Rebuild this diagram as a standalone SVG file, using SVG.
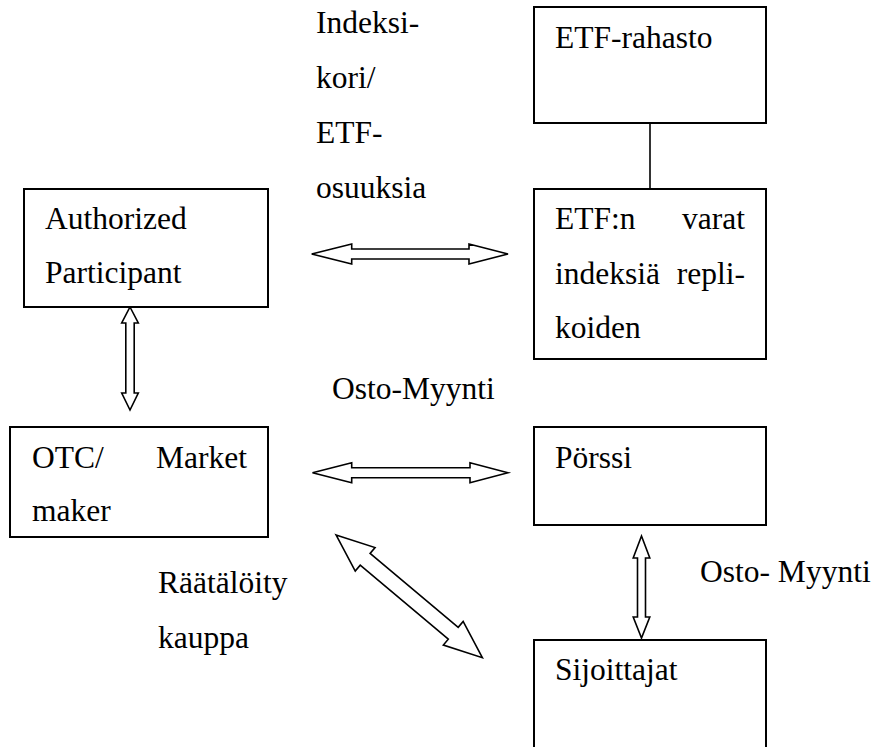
<svg xmlns="http://www.w3.org/2000/svg" width="878" height="747" viewBox="0 0 878 747">
<style>
.box{fill:#fff;stroke:#000;stroke-width:2}
.arr{fill:#fff;stroke:#000;stroke-width:1.6;stroke-linejoin:miter}
.ln{stroke:#000;stroke-width:1.6;fill:none}
text{font-family:"Liberation Serif","Times New Roman",serif;font-size:31.5px;fill:#000}
.end{text-anchor:end}
</style>
<rect width="878" height="747" fill="#fff"/>
<g id="connectors">
<line class="ln" x1="650" y1="123" x2="650" y2="189"/>
<path class="arr" d="M311.7,254 L351.7,244 L351.7,249 L469,249 L469,244 L508,254 L469,264 L469,259 L351.7,259 L351.7,264 Z"/>
<path class="arr" d="M312.5,472.7 L351.7,462.7 L351.7,467.7 L470,467.7 L470,462.7 L508,472.7 L470,482.7 L470,477.7 L351.7,477.7 L351.7,482.7 Z"/>
<path class="arr" d="M130,307 L138.3,323 L134.2,323 L134.2,393 L138.3,393 L130,410 L121.7,393 L125.8,393 L125.8,323 L121.7,323 Z"/>
<path class="arr" d="M641.5,536 L649.8,558 L645.5,558 L645.5,617 L649.8,617 L641.5,638 L633.2,617 L637.5,617 L637.5,558 L633.2,558 Z"/>
<path class="arr" transform="translate(409.2,596.3) rotate(40)" d="M-95.5,0 L-57.5,-15.4 L-57.5,-7.7 L57.5,-7.7 L57.5,-15.4 L95.5,0 L57.5,15.4 L57.5,7.7 L-57.5,7.7 L-57.5,15.4 Z"/>
</g>
<g id="label-indeksikori">
<text x="316" y="33">Indeksi-</text>
<text x="316" y="88">kori/</text>
<text x="316" y="143">ETF-</text>
<text x="316" y="198">osuuksia</text>
</g>
<g id="label-osto-myynti-1"><text x="332" y="399">Osto-Myynti</text></g>
<g id="label-osto-myynti-2"><text x="700" y="582">Osto- Myynti</text></g>
<g id="label-raatalointy">
<text x="158" y="593">Räätälöity</text>
<text x="158" y="648">kauppa</text>
</g>
<g id="node-etf-rahasto">
<rect class="box" x="534" y="7" width="232" height="116"/>
<text x="555" y="48">ETF-rahasto</text>
</g>
<g id="node-etf-varat">
<rect class="box" x="534" y="189" width="232" height="170"/>
<text x="555" y="229">ETF:n</text>
<text x="745" y="229" class="end">varat</text>
<text x="555" y="283.5">indeksiä</text>
<text x="745" y="283.5" class="end">repli-</text>
<text x="555" y="337.5">koiden</text>
</g>
<g id="node-ap">
<rect class="box" x="24" y="189" width="244" height="118"/>
<text x="45" y="229">Authorized</text>
<text x="45" y="283">Participant</text>
</g>
<g id="node-otc">
<rect class="box" x="10" y="427" width="258" height="110"/>
<text x="32" y="467.5">OTC/</text>
<text x="247" y="467.5" class="end">Market</text>
<text x="32" y="521">maker</text>
</g>
<g id="node-porssi">
<rect class="box" x="534" y="427" width="232" height="98"/>
<text x="555" y="467.5">Pörssi</text>
</g>
<g id="node-sijoittajat">
<rect class="box" x="534" y="640" width="232" height="120"/>
<text x="555" y="680">Sijoittajat</text>
</g>
</svg>
